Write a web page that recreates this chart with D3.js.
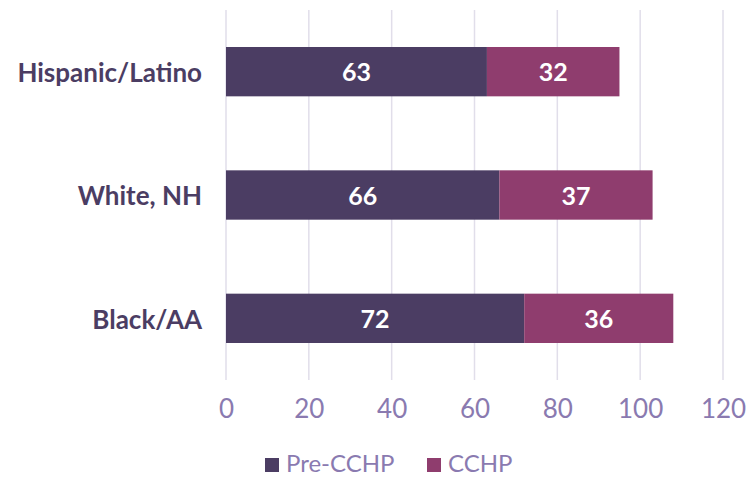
<!DOCTYPE html>
<html>
<head>
<meta charset="utf-8">
<script src="https://cdn.jsdelivr.net/npm/d3@7"></script>
<style>
  body { margin: 0; background: #fff; }
  svg { font-family: Lato, "Open Sans", sans-serif; }
</style>
</head>
<body>
<svg id="chart"></svg>
<script>
// data
var categories = ["Hispanic/Latino", "White, NH", "Black/AA"];
var seriesNames = ["Pre-CCHP", "CCHP"];
var preCCHP = [63, 66, 72];
var cchp = [32, 37, 36];
var xTicks = [0, 20, 40, 60, 80, 100, 120];

var colors = ["#4b3d63", "#8f3d6e"];
var width = 755, height = 477;
var margin = {top: 10, right: 32, bottom: 97, left: 226};

var svg = d3.select("#chart")
    .attr("width", width)
    .attr("height", height);

var x = d3.scaleLinear()
    .domain([0, 120])
    .range([margin.left, width - margin.right]);

var y = d3.scaleBand()
    .domain(categories)
    .range([margin.top, height - margin.bottom])
    .paddingInner(0.6)
    .paddingOuter(0.3);

// gridlines
svg.append("g")
    .selectAll("line")
    .data(xTicks)
    .enter()
    .append("line")
    .attr("x1", function(d) { return x(d); })
    .attr("x2", function(d) { return x(d); })
    .attr("y1", margin.top)
    .attr("y2", height - margin.bottom)
    .attr("stroke", "#e1deea")
    .attr("stroke-width", 1.5);

// stack
var rows = categories.map(function(c, i) {
    return {cat: c, "Pre-CCHP": preCCHP[i], "CCHP": cchp[i]};
});
var stacked = d3.stack().keys(seriesNames)(rows);

var layers = svg.append("g")
    .selectAll("g")
    .data(stacked)
    .enter()
    .append("g")
    .attr("fill", function(d, i) { return colors[i]; });

layers.selectAll("rect")
    .data(function(d) { return d; })
    .enter()
    .append("rect")
    .attr("x", function(d) { return x(d[0]); })
    .attr("width", function(d) { return x(d[1]) - x(d[0]); })
    .attr("y", function(d) { return y(d.data.cat); })
    .attr("height", y.bandwidth());

layers.selectAll("text")
    .data(function(d) { return d; })
    .enter()
    .append("text")
    .attr("x", function(d) { return (x(d[0]) + x(d[1])) / 2; })
    .attr("y", function(d) { return y(d.data.cat) + y.bandwidth() / 2; })
    .attr("dy", "0.38em")
    .attr("text-anchor", "middle")
    .attr("fill", "#fff")
    .attr("font-weight", "bold")
    .attr("font-size", "25px")
    .text(function(d) { return d[1] - d[0]; });

// category labels
var yAxis = svg.append("g")
    .attr("transform", "translate(" + (margin.left - 24) + ",2)")
    .call(d3.axisLeft(y).tickSize(0).tickPadding(0));
yAxis.select(".domain").remove();
yAxis.selectAll("text")
    .attr("font-family", "Lato, sans-serif")
    .attr("font-size", "26px")
    .attr("font-weight", "bold")
    .attr("fill", "#4b3d63");

// x axis
var xAxis = svg.append("g")
    .attr("transform", "translate(0," + (height - margin.bottom) + ")")
    .call(d3.axisBottom(x).tickValues(xTicks).tickSize(0).tickPadding(20));
xAxis.select(".domain").remove();
xAxis.selectAll("text")
    .attr("font-family", "Lato, sans-serif")
    .attr("font-size", "26px")
    .attr("fill", "#8a7ab0");

// legend
var legendX = [265, 427];
var legend = svg.append("g")
    .selectAll("g")
    .data(seriesNames)
    .enter()
    .append("g")
    .attr("transform", function(d, i) { return "translate(" + legendX[i] + ",0)"; });
legend.append("rect")
    .attr("x", 0)
    .attr("y", 458)
    .attr("width", 14)
    .attr("height", 14)
    .attr("fill", function(d, i) { return colors[i]; });
legend.append("text")
    .attr("x", 21)
    .attr("y", 472)
    .attr("font-size", "24px")
    .attr("fill", "#8a7ab0")
    .text(function(d) { return d; });
</script>
</body>
</html>
